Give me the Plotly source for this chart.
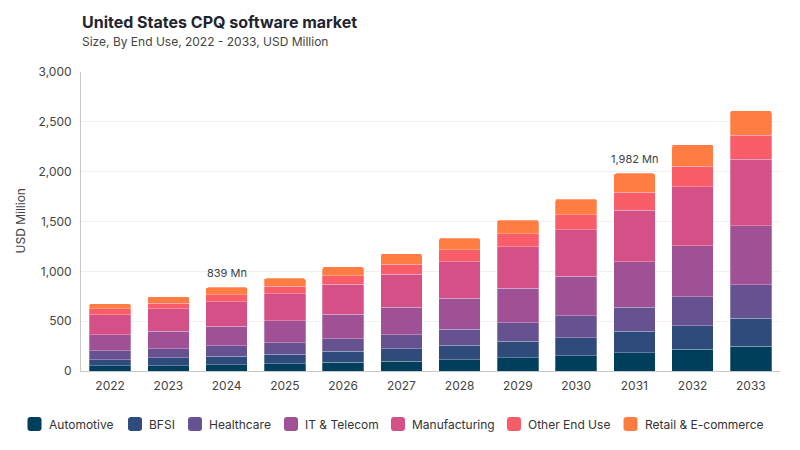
import plotly.graph_objects as go

years = ["2022", "2023", "2024", "2025", "2026", "2027", "2028", "2029", "2030", "2031", "2032", "2033"]
automotive = [53, 53, 63, 73, 87, 97, 113, 133, 153, 183, 217, 247]
bfsi = [60, 80, 87, 97, 110, 124, 144, 164, 180, 214, 236, 284]
healthcare = [90, 90, 103, 113, 126, 144, 160, 186, 220, 243, 291, 334]
it_telecom = [160, 177, 194, 220, 244, 274, 311, 348, 398, 454, 511, 591]
manufacturing = [200, 223, 247, 270, 301, 334, 367, 414, 464, 521, 595, 668]
other_end_use = [60, 57, 70, 77, 86, 100, 120, 130, 154, 180, 206, 243]
retail = [54, 67, 75, 80, 90, 104, 117, 140, 156, 187, 214, 244]

series_names = ["Automotive", "BFSI", "Healthcare", "IT & Telecom", "Manufacturing",
                "Other End Use", "Retail & E-commerce"]
series_values = [automotive, bfsi, healthcare, it_telecom, manufacturing, other_end_use, retail]
colors = ["#003f5c", "#2f4b7c", "#665191", "#a05195", "#d45087", "#f95d6a", "#ff7c43"]

label_years = ["2024", "2031"]
label_texts = ["839 Mn", "1,982 Mn"]

FONT = "Inter, Lato, sans-serif"
OFF = 8  # page body margin
W, H = 792, 442
ML, MT = 81 - OFF, 72 - OFF
PLOT_R, PLOT_B = 780 - OFF, 371 - OFF
MR, MB = W - PLOT_R, H - PLOT_B
PW, PH = W - ML - MR, H - MT - MB


def px_x(p):
    return (p - OFF - ML) / PW


def px_y(p):
    return (PLOT_B - (p - OFF)) / PH


fig = go.Figure()
for name, vals, color in zip(series_names, series_values, colors):
    fig.add_trace(go.Bar(
        x=years, y=vals, name=name,
        marker=dict(color=color, line=dict(width=0.6, color="rgba(255,255,255,0.45)")),
        showlegend=False,
    ))

totals = [sum(v[i] for v in series_values) for i in range(len(years))]
for yr, txt in zip(label_years, label_texts):
    i = years.index(yr)
    fig.add_annotation(x=i, y=totals[i], xref="x", yref="y", text=txt, showarrow=False,
                       yanchor="middle", yshift=14,
                       font=dict(size=11, color="#3a3f4b", family=FONT))

# manual legend with rounded square markers
legend_left = [27.5, 128, 188, 284, 391, 507, 623.5]
leg_y = 424
sz = 14
r = 3
for name, color, lx in zip(series_names, colors, legend_left):
    x0, x1 = lx, lx + sz
    y0, y1 = leg_y - sz / 2, leg_y + sz / 2
    rx = r / PW
    ry = r / PH
    X0, X1 = px_x(x0), px_x(x1)
    Yt, Yb = px_y(y0), px_y(y1)
    path = (f"M{X0 + rx},{Yt} L{X1 - rx},{Yt} Q{X1},{Yt} {X1},{Yt - ry} "
            f"L{X1},{Yb + ry} Q{X1},{Yb} {X1 - rx},{Yb} L{X0 + rx},{Yb} "
            f"Q{X0},{Yb} {X0},{Yb + ry} L{X0},{Yt - ry} Q{X0},{Yt} {X0 + rx},{Yt} Z")
    fig.add_shape(type="path", path=path, xref="paper", yref="paper",
                  fillcolor=color, line=dict(width=0))
    fig.add_annotation(x=px_x(x1 + 5), y=px_y(leg_y), xref="paper", yref="paper",
                       text=name, showarrow=False, xanchor="left", yanchor="middle",
                       font=dict(size=12, color="#333", family=FONT))

# title and subtitle
fig.add_annotation(x=px_x(80), y=px_y(22), xref="paper", yref="paper",
                   text="<b>United States CPQ software market</b>", showarrow=False,
                   xanchor="left", yanchor="middle",
                   font=dict(size=16, color="#22252f", family=FONT))
fig.add_annotation(x=px_x(80), y=px_y(41), xref="paper", yref="paper",
                   text="Size, By End Use, 2022 - 2033, USD Million", showarrow=False,
                   xanchor="left", yanchor="middle",
                   font=dict(size=12, color="#444", family=FONT))
# y-axis title
fig.add_annotation(x=px_x(20), y=0.5, xref="paper", yref="paper",
                   text="USD Million", showarrow=False, textangle=-90,
                   xanchor="center", yanchor="middle",
                   font=dict(size=12, color="#444", family=FONT))

fig.update_layout(
    width=W, height=H,
    barmode="stack", bargap=0.29, barcornerradius=2,
    paper_bgcolor="white", plot_bgcolor="white",
    margin=dict(l=ML, r=MR, t=MT, b=MB, autoexpand=False),
    font=dict(family=FONT, color="#444", size=12),
    showlegend=False,
    xaxis=dict(type="category", showline=True, linecolor="#c8c8c8", linewidth=1, ticks="",
               tickfont=dict(size=12, color="#444"), ticklabelstandoff=4),
    yaxis=dict(range=[0, 3000], dtick=500, tickformat=",", showline=True,
               linecolor="#c8c8c8", linewidth=1, gridcolor="#f0f0f0",
               tickfont=dict(size=12, color="#444"), zeroline=False,
               ticklabelstandoff=6),
)

fig.write_html("out.html")
